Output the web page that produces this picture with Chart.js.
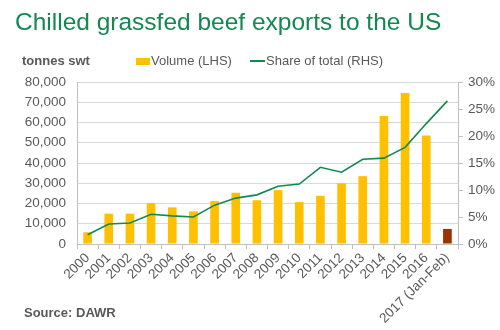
<!DOCTYPE html>
<html>
<head>
<meta charset="utf-8">
<script src="https://cdn.jsdelivr.net/npm/chart.js@4/dist/chart.umd.min.js"></script>
<style>
    body { margin: 0; background: #fff; font-family: "Liberation Sans", Arial, sans-serif; }
    #wrap { position: relative; width: 500px; height: 330px; overflow: hidden; }
    #beefChart { position: absolute; left: 0; top: 0; }
    .txt { position: absolute; white-space: nowrap; line-height: 1; }
    #title { left: 15px; top: 10px; font-size: 24.5px; color: #13884f; }
    #unit { left: 22px; top: 54px; font-size: 13px; font-weight: bold; color: #595959; }
    #source { left: 24px; top: 306px; font-size: 13px; font-weight: bold; color: #595959; }
    .legend { top: 54px; font-size: 13px; color: #595959; }
    .swatch { position: absolute; }
</style>
</head>
<body>
<div id="wrap">
    <canvas id="beefChart" width="500" height="330"></canvas>
    <div class="txt" id="title">Chilled grassfed beef exports to the US</div>
    <div class="txt" id="unit">tonnes swt</div>
    <div class="swatch" style="left:136px; top:58px; width:14px; height:7px; background:#ffc000;"></div>
    <div class="txt legend" style="left:151px;">Volume (LHS)</div>
    <div class="swatch" style="left:250px; top:60px; width:15px; height:2px; background:#13884f;"></div>
    <div class="txt legend" style="left:266px;">Share of total (RHS)</div>
    <div class="txt" id="source">Source: DAWR</div>
</div>
<script>
// Chilled grassfed beef exports to the US, tonnes swt and share of total
const years = ['2000', '2001', '2002', '2003', '2004', '2005', '2006', '2007', '2008',
    '2009', '2010', '2011', '2012', '2013', '2014', '2015', '2016', '2017 (Jan-Feb)'];
const volume = [5800, 15000, 15000, 20200, 18100, 16100, 21200, 25300, 21600,
    26600, 20700, 23800, 30000, 33500, 63200, 74600, 53600, 7400];
const sharePct = [1.7, 3.7, 3.9, 5.5, 5.2, 5.0, 7.2, 8.5, 9.1,
    10.7, 11.1, 14.2, 13.3, 15.7, 15.9, 17.9, 22.3, 26.5];
const volumeTicks = [0, 10000, 20000, 30000, 40000, 50000, 60000, 70000, 80000];
const shareTicks = [0, 5, 10, 15, 20, 25, 30];

const GREY_TEXT = '#595959';
const GRID = '#d9d9d9';
const AXIS = '#bfbfbf';

// partial year drawn in a darker colour
const barColours = years.map((y, i) => i === years.length - 1 ? '#993300' : '#ffc000');

const ctx = document.getElementById('beefChart').getContext('2d');
new Chart(ctx, {
    data: {
        labels: years,
        datasets: [{
            type: 'line',
            data: sharePct,
            yAxisID: 'yShare',
            borderColor: '#13884f',
            borderWidth: 1.6,
            pointRadius: 0,
            tension: 0,
            order: 0
        }, {
            type: 'bar',
            data: volume,
            yAxisID: 'yVol',
            backgroundColor: barColours,
            barPercentage: 0.41,
            categoryPercentage: 1,
            order: 1
        }]
    },
    options: {
        responsive: false,
        animation: false,
        layout: {
            padding: { top: 82, left: 0, right: 0, bottom: 0 }
        },
        plugins: {
            legend: { display: false },
            title: { display: false },
            tooltip: { enabled: false }
        },
        scales: {
            x: {
                offset: true,
                grid: {
                    offset: true,
                    drawOnChartArea: false,
                    drawTicks: true,
                    tickLength: 5,
                    color: AXIS
                },
                border: { color: AXIS },
                ticks: {
                    autoSkip: false,
                    maxRotation: 45,
                    minRotation: 45,
                    padding: 1,
                    color: GREY_TEXT,
                    font: { family: 'Liberation Sans', size: 13.5 }
                },
                afterFit: (scale) => { scale.height = 86; }
            },
            yVol: {
                position: 'left',
                min: 0,
                max: 80000,
                grid: { color: GRID, drawTicks: false },
                border: { color: AXIS },
                ticks: {
                    padding: 11,
                    color: GREY_TEXT,
                    font: { family: 'Liberation Sans', size: 13.5 },
                    callback: (v) => v.toLocaleString('en-US')
                },
                afterBuildTicks: (scale) => {
                    scale.ticks = volumeTicks.map(v => ({ value: v }));
                },
                afterFit: (scale) => { scale.width = 77; }
            },
            yShare: {
                position: 'right',
                min: 0,
                max: 30,
                grid: {
                    drawOnChartArea: false,
                    drawTicks: true,
                    tickLength: 5,
                    color: AXIS
                },
                border: { color: AXIS },
                ticks: {
                    padding: 5,
                    color: GREY_TEXT,
                    font: { family: 'Liberation Sans', size: 13.5 },
                    callback: (v) => v + '%'
                },
                afterBuildTicks: (scale) => {
                    scale.ticks = shareTicks.map(v => ({ value: v }));
                },
                afterFit: (scale) => { scale.width = 42; }
            }
        }
    }
});
</script>
</body>
</html>
